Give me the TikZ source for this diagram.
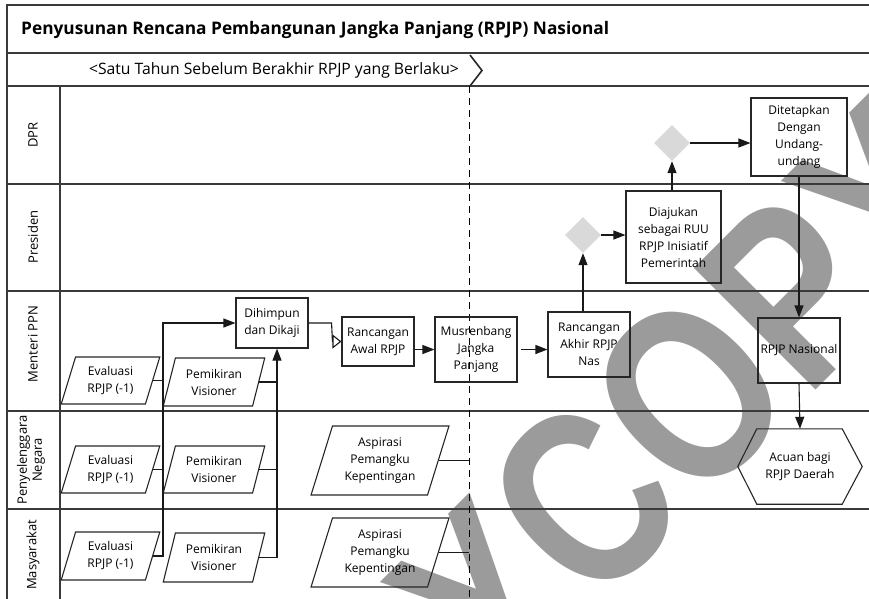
\documentclass[tikz,border=0pt]{standalone}
\usepackage{fontspec}
\setmainfont{Open Sans}
\newfontfamily\wmfont{Liberation Sans}
\usetikzlibrary{shapes.geometric,arrows.meta,calc}

\definecolor{laneline}{HTML}{3A3A3A}
\definecolor{wmgray}{HTML}{9B9B9B}
\definecolor{gatefill}{HTML}{D9D9D9}

\tikzset{
  txt/.style={font=\fontsize{12}{17}\selectfont, align=center, inner sep=1pt},
  procbox/.style={txt, draw=black!85, line width=1.1pt, rectangle},
  databox/.style={txt, draw=black!85, line width=1.1pt, trapezium,
    trapezium stretches=true, trapezium left angle=72, trapezium right angle=108},
  gate/.style={diamond, fill=gatefill, draw=none, minimum width=36pt, minimum height=36pt, inner sep=0},
  lane/.style={line width=1.2pt, draw=laneline},
  lanelabel/.style={font=\fontsize{13}{15}\selectfont, align=center, rotate=90},
  arr/.style={-{Triangle[length=12pt,width=9pt]}, line width=1.1pt, draw=black!90},
  openarr/.style={-{Triangle[open,length=9pt,width=14pt]}, line width=1.1pt, draw=black!90},
  link/.style={line width=1.1pt, draw=black!90},
  wm/.style={text=wmgray, font=\wmfont\bfseries\fontsize{250}{250}\selectfont, rotate=45, xscale=0.8, inner sep=0},
}

\begin{document}
\begin{tikzpicture}[x=1pt,y=-1pt]
\useasboundingbox (0,0) rectangle (869,598);

% watermark behind everything
\begin{scope}
  \clip (0,0) rectangle (869,598);
  \node[wm] (wmY0) at (486,599) {Y};
  \node[wm] (wmC) at (584,501) {C};
  \node[wm] (wmO) at (690,395) {O};
  \node[wm] (wmP) at (793,292) {P};
  \node[wm] (wmY) at (887,198) {Y};
\end{scope}

% frame, title and period rows
\draw[lane, line width=1.6pt] (7,600) -- (7,5) -- (872,5);
\draw[lane] (7,53) -- (872,53);
\draw[lane] (7,86) -- (872,86);
\node[anchor=west, font=\bfseries\fontsize{17.3}{19}\selectfont, inner sep=0] (title) at (21,30)
  {Penyusunan Rencana Pembangunan Jangka Panjang (RPJP) Nasional};
\node[font=\fontsize{15.7}{17}\selectfont, inner sep=0] (period) at (274,70)
  {<Satu Tahun Sebelum Berakhir RPJP yang Berlaku>};
\draw[line width=1.6pt, draw=black!85] (470,55) -- (482,70.5) -- (470,86);

% swimlanes
\draw[lane] (7,184) -- (872,184);
\draw[lane] (7,291) -- (872,291);
\draw[lane] (7,411) -- (872,411);
\draw[lane] (7,509) -- (872,509);
\draw[lane] (60,86) -- (60,600);

\node[lanelabel] (lDPR) at (33,135) {DPR};
\node[lanelabel] (lPres) at (33,237) {Presiden};
\node[lanelabel] (lMen) at (33,344) {Menteri PPN};
\node[lanelabel] (lPen) at (31,460) {Penyelenggara\\Negara};
\node[lanelabel] (lMas) at (33,555) {Masyarakat};

% period boundary
\coordinate (dtop) at (469,86);
\coordinate (dbot) at (469,600);
\draw[line width=1pt, dash pattern=on 7pt off 5pt] (dtop) -- (dbot);

% inputs
\node[databox, minimum width=99pt, minimum height=47pt] (ev1) at (110.5,380.5) {Evaluasi\\RPJP (-1)};
\node[databox, minimum width=102pt, minimum height=48pt] (pm1) at (214,382) {Pemikiran\\Visioner};
\node[databox, minimum width=99pt, minimum height=47pt] (ev2) at (110.5,469.5) {Evaluasi\\RPJP (-1)};
\node[databox, minimum width=102pt, minimum height=47pt] (pm2) at (214,469.5) {Pemikiran\\Visioner};
\node[databox, minimum width=99pt, minimum height=48pt] (ev3) at (110.5,556) {Evaluasi\\RPJP (-1)};
\node[databox, minimum width=102pt, minimum height=49pt] (pm3) at (214,557.5) {Pemikiran\\Visioner};
\node[databox, trapezium left angle=71, trapezium right angle=109, minimum width=138pt, minimum height=69pt] (asp1) at (380,460.5) {Aspirasi\\Pemangku\\Kepentingan};
\node[databox, trapezium left angle=71, trapezium right angle=109, minimum width=138pt, minimum height=69pt] (asp2) at (380,552.5) {Aspirasi\\Pemangku\\Kepentingan};

% process steps
\node[procbox, minimum width=72pt, minimum height=50pt] (dihimpun) at (272,323) {Dihimpun\\dan Dikaji};
\node[procbox, minimum width=72pt, minimum height=49pt] (awal) at (378,341.5) {Rancangan\\Awal RPJP};
\node[procbox, minimum width=82pt, minimum height=65pt] (musren) at (476,349.5) {Musrenbang\\Jangka\\Panjang};
\node[procbox, minimum width=82pt, minimum height=65pt] (akhir) at (589,344.5) {Rancangan\\Akhir RPJP\\Nas};
\node[procbox, minimum width=82pt, minimum height=65pt, inner sep=0pt] (nas) at (799,350.5) {RPJP Nasional};
\node[gate] (gpres) at (583,235) {};
\node[procbox, minimum width=95pt, minimum height=92pt] (diajukan) at (673.5,237) {Diajukan\\sebagai RUU\\RPJP Inisiatif\\Pemerintah};
\node[gate] (gdpr) at (672,143) {};
\node[procbox, minimum width=96pt, minimum height=78pt] (ditetapkan) at (799,137) {Ditetapkan\\Dengan\\Undang-\\undang};
\node[txt, minimum width=124pt, minimum height=75pt] (acuan) at (800,466.5) {Acuan bagi\\RPJP Daerah};
\draw[line width=1.1pt, draw=black!85]
  (acuan.west) -- ($(acuan.north west)+(19,0)$) -- ($(acuan.north east)+(-20,0)$) --
  (acuan.east) -- ($(acuan.south east)+(-20,0)$) -- ($(acuan.south west)+(19,0)$) -- cycle;

% gathering the inputs
\coordinate (trunkA) at (163,323);
\coordinate (trunkB) at ($(dihimpun.south)+(5,0)$);
\draw[link] (ev1.east) -- (ev1.east -| trunkA);
\draw[link] (ev2.east) -- (ev2.east -| trunkA);
\draw[arr] (ev3.east) -| (trunkA) -- (dihimpun.west);
\draw[link] (pm1.east) -- (pm1.east -| trunkB);
\draw[link] (pm2.east) -- (pm2.east -| trunkB);
\draw[arr] (pm3.east) -| (trunkB);
\draw[link] (asp1.east) -- (asp1.east -| dtop);
\draw[link] (asp2.east) -- (asp2.east -| dtop);

% main flow
\draw[openarr] (dihimpun.east) -- ++(23,0) -- ($(awal.west)+(-9,0)$) -- (awal.west);
\draw[arr] (awal.east |- musren.west) -- (musren.west);
\draw[arr] ($(musren.east)+(3,0)$) -- (akhir.west |- musren.east);
\draw[arr] (akhir.north -| gpres) -- (gpres.south);
\draw[arr] (gpres.east) -- (gpres.east -| diajukan.west);
\draw[arr] (diajukan.north -| gdpr) -- (gdpr.south);
\draw[arr] (gdpr.east) -- (gdpr.east -| ditetapkan.west);
\draw[arr] (ditetapkan.south) -- (nas.north);
\draw[arr] (nas.south) -- (acuan.north);
\end{tikzpicture}
\end{document}
